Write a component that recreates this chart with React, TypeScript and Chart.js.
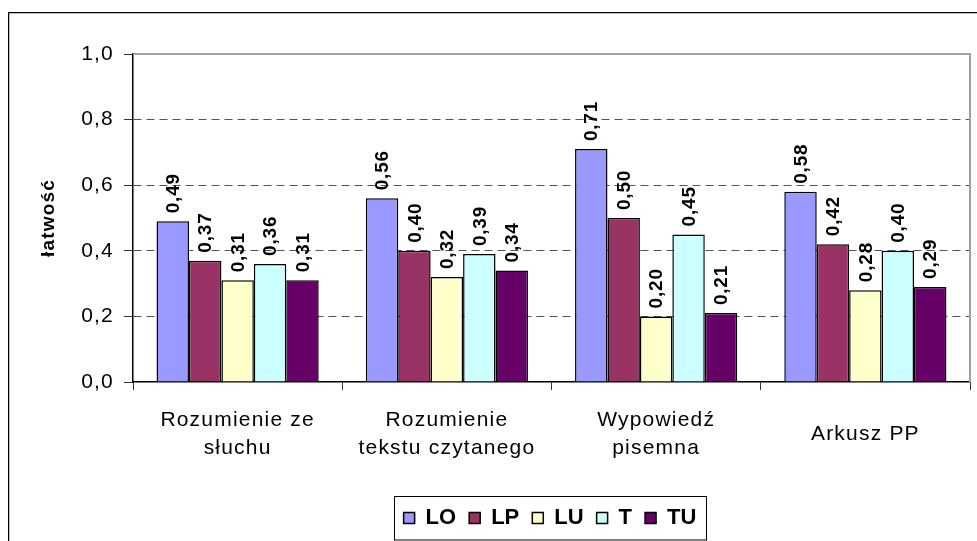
import React, { useEffect, useRef } from 'react';
import { Chart, registerables } from 'chart.js';

Chart.register(...registerables);

const categories: (string | string[])[] = [
  ['Rozumienie ze', 'słuchu'],
  ['Rozumienie', 'tekstu czytanego'],
  ['Wypowiedź', 'pisemna'],
  'Arkusz PP',
];
const seriesNames = ['LO', 'LP', 'LU', 'T', 'TU'];
const LO = [0.49, 0.56, 0.71, 0.58];
const LP = [0.37, 0.4, 0.5, 0.42];
const LU = [0.31, 0.32, 0.2, 0.28];
const T = [0.36, 0.39, 0.45, 0.4];
const TU = [0.31, 0.34, 0.21, 0.29];
const seriesValues = [LO, LP, LU, T, TU];
const seriesColors = ['#9999FF', '#993366', '#FFFFCC', '#CCFFFF', '#660066'];
const yAxisTitle = 'łatwość';
const yMin = 0;
const yMax = 1;
const yStep = 0.2;

const FONT = '"Liberation Sans", Arial, sans-serif';
const SPACING = '1.2px';
const fmt = (v: number, d: number) => v.toFixed(d).replace('.', ',');

const setSpacing = (chart: any) => { chart.ctx.letterSpacing = SPACING; };

const spacingPlugin = {
  id: 'spacing',
  beforeInit: setSpacing,
  beforeUpdate(chart: any) {
    setSpacing(chart);
    const lg = chart.legend;
    if (lg && !lg.__wrapped) {
      lg.__wrapped = true;
      const origFit = lg.fit.bind(lg);
      const origDraw = lg.draw.bind(lg);
      lg.fit = () => {
        const ctx = chart.ctx;
        ctx.save();
        ctx.letterSpacing = '0px';
        origFit();
        ctx.restore();
      };
      lg.draw = (a: any) => {
        const ctx = chart.ctx;
        ctx.save();
        ctx.letterSpacing = '0px';
        origDraw(a);
        ctx.restore();
      };
    }
  },
  beforeLayout: setSpacing,
  afterLayout(chart: any) {
    const lg = chart.legend;
    if (lg) { lg.left += 61; lg.right += 61; }
  },
  beforeDraw: setSpacing,
};

const framePlugin = {
  id: 'frames',
  beforeDraw(chart: any) {
    const ctx = chart.ctx;
    ctx.save();
    ctx.fillStyle = '#fff';
    ctx.fillRect(0, 0, chart.width, chart.height);
    ctx.strokeStyle = '#000';
    ctx.lineWidth = 1.3;
    ctx.beginPath();
    ctx.moveTo(0.6, chart.height);
    ctx.lineTo(0.6, 4.6);
    ctx.lineTo(chart.width, 4.6);
    ctx.stroke();
    ctx.restore();
  },
  beforeDatasetsDraw(chart: any) {
    const { ctx, chartArea: a } = chart;
    ctx.save();
    ctx.strokeStyle = '#a0a0a0';
    ctx.lineWidth = 2;
    ctx.beginPath();
    ctx.moveTo(a.left, a.top);
    ctx.lineTo(a.right, a.top);
    ctx.lineTo(a.right, a.bottom);
    ctx.stroke();
    ctx.restore();
  },
  afterDraw(chart: any) {
    const lg = chart.legend;
    if (!lg || !lg.lineWidths) return;
    const ctx = chart.ctx;
    const pad = lg.options.labels.padding;
    const rowW = lg.lineWidths[0];
    const startX = (lg.left + pad + lg.right - rowW) / 2;
    const endX = startX + rowW - pad;
    ctx.save();
    ctx.strokeStyle = '#000';
    ctx.lineWidth = 1;
    const x0 = Math.round(startX - 10) + 0.5;
    const x1 = Math.round(endX + 10) + 0.5;
    ctx.strokeRect(x0, 488.5, x1 - x0, 43.5);
    ctx.restore();
  },
};

const labelPlugin = {
  id: 'valueLabels',
  afterDatasetsDraw(chart: any) {
    const ctx = chart.ctx;
    ctx.save();
    ctx.letterSpacing = '0.8px';
    ctx.font = `bold 19px ${FONT}`;
    ctx.fillStyle = '#000';
    ctx.textAlign = 'left';
    ctx.textBaseline = 'middle';
    chart.data.datasets.forEach((ds: any, di: number) => {
      const meta = chart.getDatasetMeta(di);
      meta.data.forEach((bar: any, i: number) => {
        const v = ds.data[i];
        ctx.save();
        ctx.translate(bar.x + 1, bar.y - 8);
        ctx.rotate(-Math.PI / 2);
        ctx.fillText(fmt(v, 2), 0, 0);
        ctx.restore();
      });
    });
    ctx.restore();
  },
};

export default function App() {
  const ref = useRef<HTMLCanvasElement | null>(null);
  useEffect(() => {
    if (!ref.current) return;
    Chart.defaults.font.family = FONT;
    Chart.defaults.color = '#000';
    const chart = new Chart(ref.current, {
      type: 'bar',
      data: {
        labels: categories,
        datasets: seriesNames.map((name, i) => ({
          label: name,
          data: seriesValues[i],
          backgroundColor: seriesColors[i],
          borderColor: '#000',
          borderWidth: 1.5,
          categoryPercentage: 0.775,
          barPercentage: 1,
        })),
      },
      options: {
        responsive: false,
        animation: false,
        devicePixelRatio: 1,
        layout: { padding: { left: 0, right: 7, top: 46, bottom: 2 } },
        plugins: {
          tooltip: { enabled: false },
          legend: {
            position: 'bottom',
            labels: {
              boxWidth: 11,
              boxHeight: 11,
              padding: 13,
              color: '#000',
              font: { size: 22, weight: 'bold', family: FONT },
            },
          },
        },
        scales: {
          x: {
            afterFit: (s: any) => { s.height = 112; },
            grid: {
              display: true,
              drawOnChartArea: false,
              drawTicks: true,
              tickLength: 8,
              tickColor: '#333',
              offset: true,
            },
            border: { display: true, color: '#000', width: 1.5 },
            ticks: {
              color: '#000',
              font: { size: 21, lineHeight: 1.333, family: FONT },
              padding: 30,
              crossAlign: 'center',
              maxRotation: 0,
              autoSkip: false,
            },
          },
          y: {
            min: yMin,
            max: yMax,
            afterFit: (s: any) => { s.width = 125; },
            grid: {
              color: (c: any) => {
                const v = c.tick ? c.tick.value : 0;
                if (v < 0.01 || v > 0.99) return 'rgba(0,0,0,0)';
                return '#555';
              },
              tickColor: '#333',
              tickLength: 9,
              tickBorderDash: [],
              lineWidth: 1,
            },
            border: { display: true, color: '#000', width: 1.5, dash: [8, 5] },
            ticks: {
              stepSize: yStep,
              color: '#000',
              padding: 10,
              font: { size: 21, family: FONT },
              callback: (v: any) => fmt(Number(v), 1),
            },
            title: {
              display: true,
              text: yAxisTitle,
              color: '#000',
              font: { size: 19, weight: 'bold', family: FONT },
              padding: { top: 29, bottom: 0 },
            },
          },
        },
      },
      plugins: [spacingPlugin, framePlugin, labelPlugin],
    } as any);
    return () => chart.destroy();
  }, []);
  return (
    <div style={{ position: 'absolute', left: 8, top: 8, width: 969, height: 533 }}>
      <canvas ref={ref} width={969} height={533} style={{ display: 'block' }} />
    </div>
  );
}
